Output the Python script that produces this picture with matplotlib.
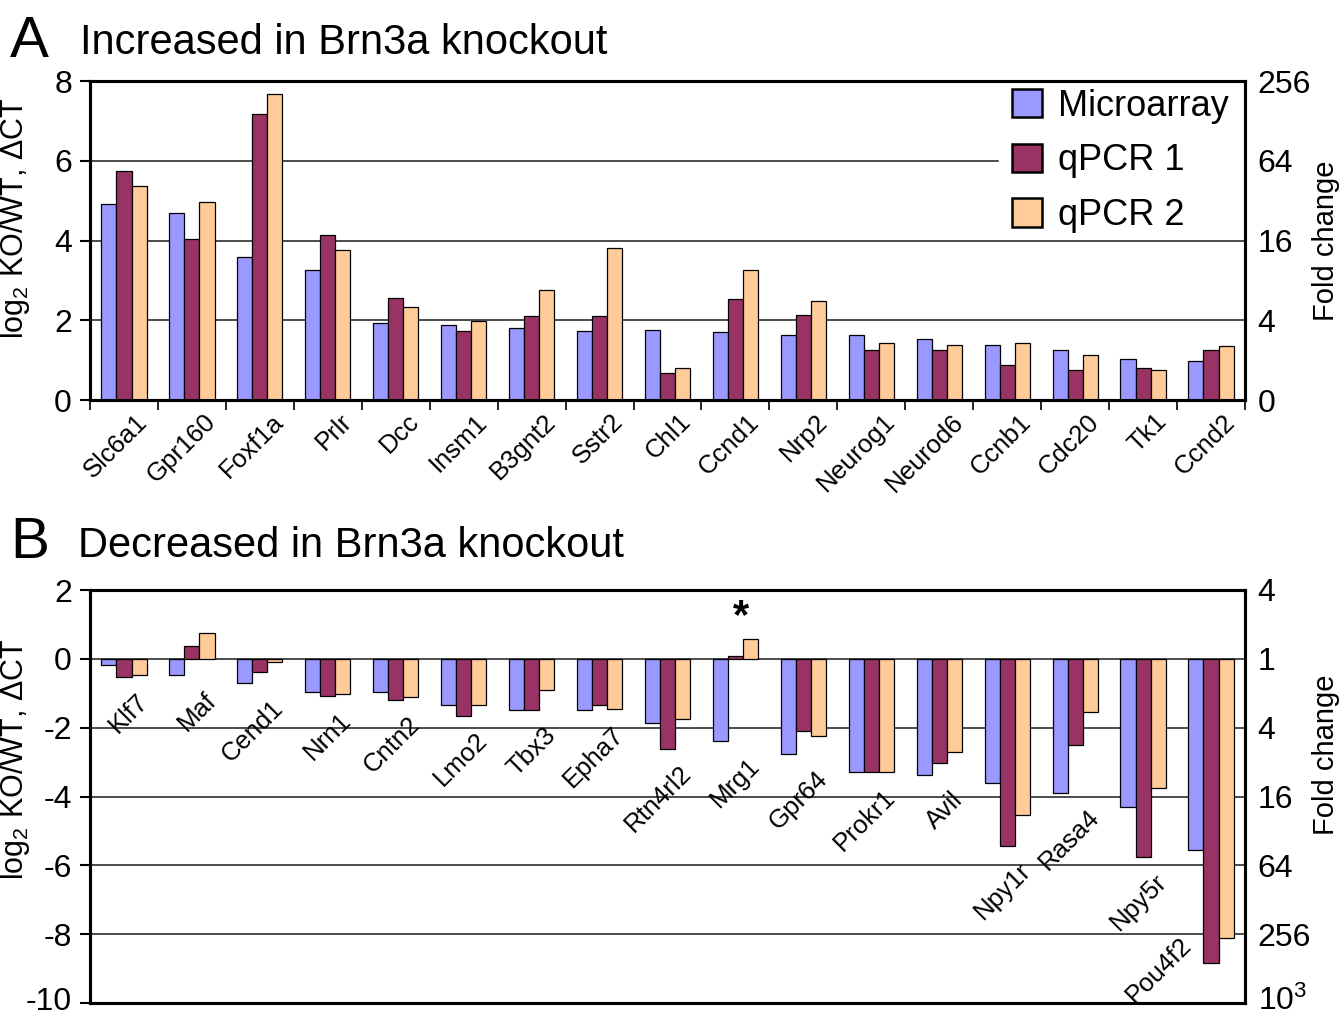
import matplotlib
matplotlib.use('Agg')
import matplotlib.pyplot as plt
import numpy as np
from matplotlib.transforms import ScaledTranslation
from matplotlib.patches import Patch

plt.rcParams['font.family'] = ['Liberation Sans', 'DejaVu Sans']
plt.rcParams['mathtext.fontset'] = 'custom'
plt.rcParams['mathtext.rm'] = 'Liberation Sans'
plt.rcParams['mathtext.it'] = 'Liberation Sans:italic'
plt.rcParams['mathtext.default'] = 'rm'
plt.rcParams['axes.unicode_minus'] = False

# ---- data -------------------------------------------------------------
series_names = ['Microarray', 'qPCR 1', 'qPCR 2']
series_colors = ['#9999FF', '#993366', '#FFCC99']

genes_up = ['Slc6a1', 'Gpr160', 'Foxf1a', 'Prlr', 'Dcc', 'Insm1', 'B3gnt2',
            'Sstr2', 'Chl1', 'Ccnd1', 'Nrp2', 'Neurog1', 'Neurod6', 'Ccnb1',
            'Cdc20', 'Tk1', 'Ccnd2']
up_microarray = [4.92, 4.68, 3.58, 3.26, 1.93, 1.88, 1.80, 1.73, 1.75, 1.71,
                 1.63, 1.63, 1.54, 1.39, 1.25, 1.03, 0.99]
up_qpcr1 = [5.75, 4.04, 7.18, 4.14, 2.56, 1.73, 2.11, 2.11, 0.67, 2.53,
            2.13, 1.25, 1.25, 0.89, 0.75, 0.80, 1.25]
up_qpcr2 = [5.37, 4.96, 7.68, 3.77, 2.34, 1.97, 2.76, 3.81, 0.80, 3.27,
            2.49, 1.43, 1.39, 1.43, 1.12, 0.75, 1.35]

genes_down = ['Klf7', 'Maf', 'Cend1', 'Nrn1', 'Cntn2', 'Lmo2', 'Tbx3', 'Epha7',
              'Rtn4rl2', 'Mrg1', 'Gpr64', 'Prokr1', 'Avil', 'Npy1r', 'Rasa4',
              'Npy5r', 'Pou4f2']
down_microarray = [-0.17, -0.48, -0.71, -0.97, -0.95, -1.34, -1.50, -1.50,
                   -1.85, -2.40, -2.77, -3.30, -3.37, -3.62, -3.89, -4.31, -5.55]
down_qpcr1 = [-0.53, 0.36, -0.39, -1.08, -1.19, -1.65, -1.50, -1.34,
              -2.62, 0.08, -2.09, -3.30, -3.03, -5.43, -2.50, -5.76, -8.85]
down_qpcr2 = [-0.48, 0.75, -0.08, -1.02, -1.12, -1.34, -0.92, -1.45,
              -1.76, 0.58, -2.24, -3.30, -2.71, -4.53, -1.55, -3.74, -8.12]
starred_gene = 'Mrg1'

up_log_ticks = [0, 2, 4, 6, 8]
up_fold_labels = ['0', '4', '16', '64', '256']
down_log_ticks = [-10, -8, -6, -4, -2, 0, 2]
down_fold_labels = ['10$^3$', '256', '64', '16', '4', '1', '4']

left_label = 'log$_2$ KO/WT, ΔCT'
right_label = 'Fold change'

# ---- figure -----------------------------------------------------------
W, H = 1343, 1017
fig = plt.figure(figsize=(W / 100, H / 100), dpi=100)
fig.patch.set_facecolor('white')


def px_axes(left, top, right, bottom):
    return fig.add_axes([left / W, 1 - bottom / H, (right - left) / W, (bottom - top) / H])


ax_up = px_axes(90, 81, 1245, 400)
ax_dn = px_axes(90, 590, 1245, 1003)

bar_w = 0.222
tick_fs = 23
lab_fs = 22
gene_fs = 18.5
grid_kw = dict(color='#1a1a1a', linewidth=1.1, zorder=0.5)


def draw_bars(ax, series):
    x = np.arange(len(series[0]))
    for k, (vals, col) in enumerate(zip(series, series_colors)):
        ax.bar(x + (k - 1) * bar_w, vals, bar_w, color=col, edgecolor='black',
               linewidth=0.9, zorder=3)
    return x


def style_axes(ax, n, ticks, fold_labels, ylim, label_y):
    ax.set_xlim(-0.5, n - 0.5)
    ax.set_ylim(*ylim)
    ax.set_yticks(ticks)
    ax.set_yticklabels([str(t) for t in ticks], fontsize=tick_fs)
    ax.tick_params(axis='y', direction='out', length=7, width=1.5, pad=6)
    for s in ax.spines.values():
        s.set_linewidth(2.2)
    ax.set_ylabel(left_label, fontsize=lab_fs)
    ax.yaxis.set_label_coords(-0.05, label_y[0])
    tw = ax.twinx()
    tw.set_ylim(*ylim)
    tw.set_yticks(ticks)
    tw.set_yticklabels(fold_labels, fontsize=tick_fs)
    tw.tick_params(axis='y', length=0, pad=9)
    for s in tw.spines.values():
        s.set_linewidth(2.2)
    tw.set_ylabel(right_label, fontsize=21, labelpad=2)
    tw.yaxis.set_label_coords(1.058, label_y[1])
    return tw


# ---- panel A ------------------------------------------------------------
series_up = [up_microarray, up_qpcr1, up_qpcr2]
x_up = draw_bars(ax_up, series_up)
style_axes(ax_up, len(genes_up), up_log_ticks, up_fold_labels, (0, 8), (0.57, 0.5))
ax_up.set_xticks(x_up)
ax_up.set_xticklabels(genes_up, fontsize=gene_fs, rotation=45, ha='right',
                      va='center', rotation_mode='anchor')
ax_up.tick_params(axis='x', which='major', length=0, pad=13)
ax_up.set_xticks(np.arange(len(genes_up) + 1) - 0.5, minor=True)
ax_up.tick_params(axis='x', which='minor', direction='out', length=7, width=1.2)
shift = ScaledTranslation(0.20, 0, fig.dpi_scale_trans)
for lbl in ax_up.get_xticklabels():
    lbl.set_transform(lbl.get_transform() + shift)

handles = [Patch(facecolor=c, edgecolor='black', linewidth=1.8) for c in series_colors]
leg = ax_up.legend(handles, series_names, loc='upper right',
                   bbox_to_anchor=(0.988, 0.982), fontsize=26, frameon=False,
                   handlelength=0.85, handleheight=0.85, handletextpad=0.45,
                   labelspacing=0.55, borderpad=0.05, borderaxespad=0.0)
leg.set_zorder(10)

# horizontal gridlines; any line passing through the legend stops short of it
fig.canvas.draw()
leg_box = leg.get_window_extent().transformed(ax_up.transAxes.inverted())
for t in up_log_ticks[1:-1]:
    y_ax = (t - 0) / 8
    stop = 1.0
    if leg_box.y0 <= y_ax <= leg_box.y1:
        stop = leg_box.x0 - 12 / 1155
    ax_up.axhline(t, xmax=stop, **grid_kw)

# ---- panel B ------------------------------------------------------------
series_dn = [down_microarray, down_qpcr1, down_qpcr2]
x_dn = draw_bars(ax_dn, series_dn)
tw_dn = style_axes(ax_dn, len(genes_down), down_log_ticks, down_fold_labels,
                   (-10, 2), (0.59, 0.60))
ax_dn.set_xticks([])
for t in down_log_ticks[1:-1]:
    ax_dn.axhline(t, **grid_kw)

# keep the lowest tick labels inside the canvas
lift = ScaledTranslation(0, 0.05, fig.dpi_scale_trans)
for lbl in (ax_dn.get_yticklabels()[0], tw_dn.get_yticklabels()[0]):
    lbl.set_transform(lbl.get_transform() + lift)

label_extent = 1.85
ymin = ax_dn.get_ylim()[0]
for i, g in enumerate(genes_down):
    lowest = min(0.0, *(s[i] for s in series_dn))
    top = lowest - 0.36
    dx = 0.42
    if top - label_extent < ymin:
        # not enough room under the bars: tuck the name beneath the first bar
        top = ymin + label_extent + 0.18
        dx = -0.22
    ax_dn.text(i + dx, top, g, fontsize=gene_fs, rotation=45,
               ha='right', va='top', zorder=4)

j = genes_down.index(starred_gene)
ax_dn.text(j + 0.08, max(s[j] for s in series_dn) + 0.05, '*', fontsize=30,
           fontweight='bold', ha='center', va='bottom', zorder=4)

# ---- panel titles ------------------------------------------------------
fig.text(10 / W, 1 - 57 / H, 'A', fontsize=42, ha='left', va='baseline')
fig.text(80 / W, 1 - 54 / H, 'Increased in Brn3a knockout', fontsize=30,
         ha='left', va='baseline')
fig.text(10 / W, 1 - 558 / H, 'B', fontsize=42, ha='left', va='baseline')
fig.text(78 / W, 1 - 557 / H, 'Decreased in Brn3a knockout', fontsize=30,
         ha='left', va='baseline')

fig.savefig('out.png', dpi=100, facecolor='white')
